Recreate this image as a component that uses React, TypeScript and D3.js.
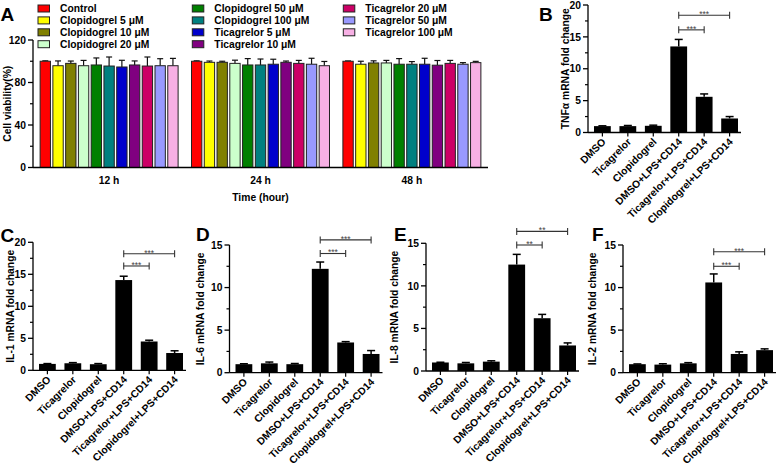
import React from "react";
import * as d3 from "d3";

const FONT = "'Liberation Sans', Arial, Helvetica, sans-serif";

// ---------- Panel A data ----------
const timeGroups = ["12 h", "24 h", "48 h"];
const treatments = [
  "Control",
  "Clopidogrel 5 μM",
  "Clopidogrel 10 μM",
  "Clopidogrel 20 μM",
  "Clopidogrel 50 μM",
  "Clopidogrel 100 μM",
  "Ticagrelor 5 μM",
  "Ticagrelor 10 μM",
  "Ticagrelor 20 μM",
  "Ticagrelor 50 μM",
  "Ticagrelor 100 μM",
];
const treatmentColors = [
  "#ff0000", "#ffff00", "#808000", "#ccffcc", "#008000", "#008080",
  "#0000cc", "#800080", "#cc0066", "#9999ff", "#f7b0e4",
];
const viability12h = [100, 95.8, 98, 95.8, 96.5, 95.5, 94.6, 96.5, 95.5, 95.8, 95.8];
const viabilityErr12h = [0.4, 4.5, 2.2, 5, 6.6, 8.5, 6.3, 3.8, 8.5, 6.6, 6.9];
const viability24h = [100, 99, 99, 98, 96.5, 96.5, 97.2, 99, 98, 97.2, 95.8];
const viabilityErr24h = [0.4, 1.2, 1, 3, 6, 5.6, 4.7, 1.2, 2.8, 5.6, 4];
const viability48h = [100, 97.2, 98.4, 98.4, 97.2, 97.2, 97.2, 96.3, 98, 97.2, 98.7];
const viabilityErr48h = [0.3, 2.8, 2, 2.4, 5.3, 2.5, 5.6, 4.4, 2.8, 1.5, 1.2];
const viabilityTicks = [0, 40, 80, 120];
const viabilityMinorTicks = [20, 60, 100];

// ---------- Panels B-F data ----------
const conditions = [
  "DMSO",
  "Ticagrelor",
  "Clopidogrel",
  "DMSO+LPS+CD14",
  "Ticagrelor+LPS+CD14",
  "Clopidogrel+LPS+CD14",
];
const tnfValues = [1.0, 1.0, 1.05, 13.5, 5.6, 2.2];
const tnfErrors = [0.05, 0.1, 0.1, 1.1, 0.45, 0.3];
const il1Values = [1.0, 1.1, 0.95, 14.1, 4.5, 2.7];
const il1Errors = [0.05, 0.1, 0.1, 0.6, 0.2, 0.35];
const il6Values = [1.0, 1.1, 1.0, 12.2, 3.55, 2.2];
const il6Errors = [0.05, 0.15, 0.08, 0.8, 0.1, 0.4];
const il8Values = [1.0, 0.9, 1.1, 12.5, 6.2, 3.0];
const il8Errors = [0.03, 0.1, 0.1, 1.2, 0.45, 0.3];
const il2Values = [1.0, 0.95, 1.1, 10.6, 2.2, 2.65];
const il2Errors = [0.03, 0.1, 0.08, 1.0, 0.25, 0.15];
const ticks20 = [0, 5, 10, 15, 20];
const ticks15 = [0, 5, 10, 15];

// significance brackets: [fromIndex, toIndex, label, heightInDataUnits]
type Sig = [number, number, string, number];
const tnfSig: Sig[] = [[3, 5, "***", 18.4], [3, 4, "***", 16.1]];
const il1Sig: Sig[] = [[3, 5, "***", 18.2], [3, 4, "***", 16.3]];
const il6Sig: Sig[] = [[3, 5, "***", 15.6], [3, 4, "***", 14.0]];
const il8Sig: Sig[] = [[3, 5, "**", 16.4], [3, 4, "**", 14.8]];
const il2Sig: Sig[] = [[3, 5, "***", 14.2], [3, 4, "***", 12.5]];

const FS = 10.3;

function PanelA() {
  const axisX = 33;
  const axisEnd = 488;
  const y0 = 167.5;
  const yTop = 40;
  const y = d3.scaleLinear().domain([0, 120]).range([y0, yTop]);
  const gx = d3
    .scaleBand<string>()
    .domain(timeGroups)
    .range([axisX, axisEnd])
    .paddingInner(0.0885)
    .paddingOuter(0.047);
  const bx = d3
    .scaleBand<string>()
    .domain(treatments)
    .range([0, gx.bandwidth()])
    .paddingInner(0.19)
    .paddingOuter(0);
  const series = [
    [viability12h, viabilityErr12h],
    [viability24h, viabilityErr24h],
    [viability48h, viabilityErr48h],
  ];
  const legendCols = [
    [0, 1, 2, 3],
    [4, 5, 6, 7],
    [8, 9, 10],
  ];
  const legendX = [38, 192.3, 343.3];
  const rowStep = 11.9;
  const row0 = 8.5;

  return (
    <g>
      <text x={0.5} y={20.5} fontSize={19} fontWeight="bold">A</text>
      {legendCols.map((col, ci) =>
        col.map((ti, ri) => (
          <g key={ti}>
            <rect
              x={legendX[ci]}
              y={row0 + ri * rowStep - 3.5}
              width={11.5}
              height={7}
              fill={treatmentColors[ti]}
              stroke="#222"
              strokeWidth={1}
            />
            <text
              x={legendX[ci] + 22}
              y={row0 + ri * rowStep}
              dy="0.36em"
              fontSize={FS}
              fontWeight="bold"
            >
              {treatments[ti]}
            </text>
          </g>
        ))
      )}
      {timeGroups.map((g, gi) => {
        const [vals, errs] = series[gi];
        return (
          <g key={g}>
            {treatments.map((t, ti) => {
              const bx0 = gx(g)! + bx(t)!;
              const cx = bx0 + bx.bandwidth() / 2;
              const top = y(vals[ti]);
              const et = y(vals[ti] + errs[ti]);
              return (
                <g key={t}>
                  <line x1={cx} x2={cx} y1={top} y2={et} stroke="#111" strokeWidth={1.2} />
                  <line x1={cx - 3} x2={cx + 3} y1={et} y2={et} stroke="#111" strokeWidth={1.2} />
                  <rect
                    x={bx0}
                    y={top}
                    width={bx.bandwidth()}
                    height={y0 - top}
                    fill={treatmentColors[ti]}
                    stroke="#222"
                    strokeWidth={1}
                  />
                </g>
              );
            })}
            <text
              x={gx(g)! + gx.bandwidth() / 2}
              y={183.5}
              textAnchor="middle"
              fontSize={FS}
              fontWeight="bold"
            >
              {g}
            </text>
          </g>
        );
      })}
      <text x={(axisX + axisEnd) / 2} y={201} textAnchor="middle" fontSize={FS} fontWeight="bold">
        Time (hour)
      </text>
      <line x1={axisX} x2={axisX} y1={y0} y2={yTop} stroke="#000" strokeWidth={1.3} />
      <line x1={axisX} x2={axisEnd} y1={y0} y2={y0} stroke="#000" strokeWidth={1.3} />
      {viabilityTicks.map((t) => (
        <g key={t}>
          <line x1={axisX - 5} x2={axisX} y1={y(t)} y2={y(t)} stroke="#000" strokeWidth={1.3} />
          <text x={axisX - 7} y={y(t)} dy="0.36em" textAnchor="end" fontSize={FS} fontWeight="bold">
            {t}
          </text>
        </g>
      ))}
      {viabilityMinorTicks.map((t) => (
        <line key={t} x1={axisX - 3} x2={axisX} y1={y(t)} y2={y(t)} stroke="#000" strokeWidth={1.2} />
      ))}
      <text
        transform={`translate(11,${(y0 + yTop) / 2}) rotate(-90)`}
        textAnchor="middle"
        fontSize={FS}
        fontWeight="bold"
      >
        Cell viability(%)
      </text>
    </g>
  );
}

type FoldProps = {
  letter: string;
  letterX: number;
  letterY: number;
  ylabel: string;
  ylabelX: number;
  values: number[];
  errors: number[];
  yMax: number;
  yTicks: number[];
  axisX: number;
  y0: number;
  yTop: number;
  sig: Sig[];
};

function FoldPanel(p: FoldProps) {
  const y = d3.scaleLinear().domain([0, p.yMax]).range([p.y0, p.yTop]);
  const x = d3
    .scaleBand<string>()
    .domain(conditions)
    .range([p.axisX + 6, p.axisX + 150])
    .paddingInner(0.34)
    .paddingOuter(0);
  const axisEnd = p.axisX + 153;
  const cx = (i: number) => x(conditions[i])! + x.bandwidth() / 2;
  const minor = p.yTicks.slice(1).map((t, i) => (t + p.yTicks[i]) / 2);
  return (
    <g>
      <text x={p.letterX} y={p.letterY} fontSize={19} fontWeight="bold">{p.letter}</text>
      <text
        transform={`translate(${p.ylabelX},${(p.y0 + p.yTop) / 2}) rotate(-90)`}
        textAnchor="middle"
        fontSize={FS}
        fontWeight="bold"
      >
        {p.ylabel}
      </text>
      {p.values.map((v, i) => {
        const top = y(v);
        const et = y(v + p.errors[i]);
        const c = cx(i);
        return (
          <g key={i}>
            <line x1={c} x2={c} y1={top} y2={et} stroke="#000" strokeWidth={1.5} />
            <line x1={c - 4} x2={c + 4} y1={et} y2={et} stroke="#000" strokeWidth={1.5} />
            <rect x={x(conditions[i])} y={top} width={x.bandwidth()} height={p.y0 - top} fill="#000" />
          </g>
        );
      })}
      <line x1={p.axisX} x2={p.axisX} y1={p.y0} y2={p.yTop} stroke="#000" strokeWidth={1.3} />
      <line x1={p.axisX} x2={axisEnd} y1={p.y0} y2={p.y0} stroke="#000" strokeWidth={1.3} />
      {p.yTicks.map((t) => (
        <g key={t}>
          <line x1={p.axisX - 5} x2={p.axisX} y1={y(t)} y2={y(t)} stroke="#000" strokeWidth={1.3} />
          <text x={p.axisX - 7} y={y(t)} dy="0.36em" textAnchor="end" fontSize={FS} fontWeight="bold">
            {t}
          </text>
        </g>
      ))}
      {minor.map((t) => (
        <line key={t} x1={p.axisX - 3} x2={p.axisX} y1={y(t)} y2={y(t)} stroke="#000" strokeWidth={1.2} />
      ))}
      {conditions.map((c, i) => (
        <g key={c}>
          <line x1={cx(i)} x2={cx(i)} y1={p.y0} y2={p.y0 + 4} stroke="#000" strokeWidth={1.2} />
          <text
            transform={`translate(${cx(i) + 4},${p.y0 + 10}) rotate(-45)`}
            textAnchor="end"
            fontSize={FS}
            fontWeight="bold"
          >
            {c}
          </text>
        </g>
      ))}
      {p.sig.map(([a, b, label, h], k) => {
        const yy = y(h);
        const xa = cx(a);
        const xb = cx(b);
        return (
          <g key={k} stroke="#333" strokeWidth={1.1}>
            <line x1={xa} x2={xb} y1={yy} y2={yy} />
            <line x1={xa} x2={xa} y1={yy - 3.5} y2={yy + 3.5} />
            <line x1={xb} x2={xb} y1={yy - 3.5} y2={yy + 3.5} />
            <text
              x={(xa + xb) / 2}
              y={yy + 1.8}
              textAnchor="middle"
              fontSize={8.5}
              fill="#444"
              stroke="none"
            >
              {label}
            </text>
          </g>
        );
      })}
    </g>
  );
}

export default function App() {
  return (
    <svg
      width={778}
      height={470}
      style={{ position: "absolute", left: 0, top: 0, background: "#fff" }}
      fontFamily={FONT}
    >
      <rect width={778} height={470} fill="#fff" />
      <PanelA />
      <FoldPanel
        letter="B" letterX={539} letterY={20.5}
        ylabel="TNFα mRNA fold change" ylabelX={568.6}
        values={tnfValues} errors={tnfErrors}
        yMax={20} yTicks={ticks20}
        axisX={588} y0={132.5} yTop={5} sig={tnfSig}
      />
      <FoldPanel
        letter="C" letterX={0.5} letterY={242}
        ylabel="IL-1 mRNA fold change" ylabelX={13.6}
        values={il1Values} errors={il1Errors}
        yMax={20} yTicks={ticks20}
        axisX={33} y0={370.3} yTop={242.3} sig={il1Sig}
      />
      <FoldPanel
        letter="D" letterX={196} letterY={241}
        ylabel="IL-6 mRNA fold change" ylabelX={203.6}
        values={il6Values} errors={il6Errors}
        yMax={15} yTicks={ticks15}
        axisX={229.5} y0={372.7} yTop={245} sig={il6Sig}
      />
      <FoldPanel
        letter="E" letterX={394} letterY={240.5}
        ylabel="IL-8 mRNA fold change" ylabelX={398}
        values={il8Values} errors={il8Errors}
        yMax={15} yTicks={ticks15}
        axisX={426} y0={371} yTop={243.3} sig={il8Sig}
      />
      <FoldPanel
        letter="F" letterX={592} letterY={240.5}
        ylabel="IL-2 mRNA fold change" ylabelX={596}
        values={il2Values} errors={il2Errors}
        yMax={15} yTicks={ticks15}
        axisX={623} y0={372.7} yTop={245} sig={il2Sig}
      />
    </svg>
  );
}
